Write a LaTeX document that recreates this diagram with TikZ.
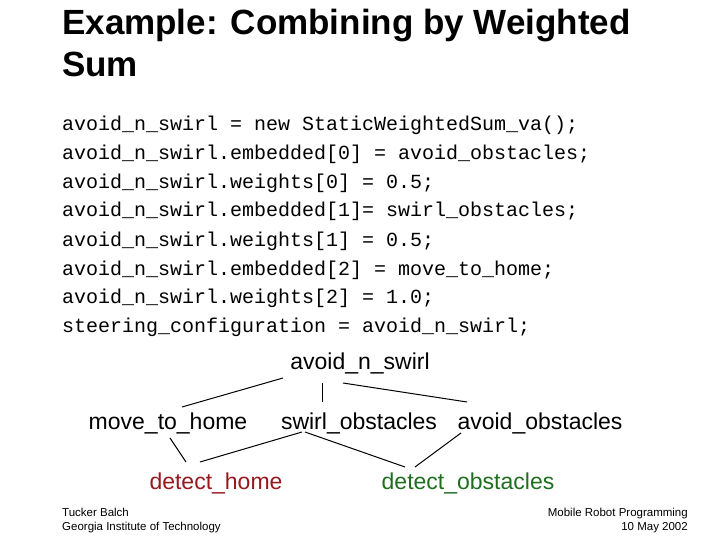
\documentclass[tikz,border=0pt]{standalone}
\usepackage{fontspec}
\setmainfont{Liberation Sans}
\setmonofont{Liberation Mono}
\begin{document}
\begin{tikzpicture}[x=1pt,y=-1pt,
 code/.style={anchor=base west,inner sep=0,font=\ttfamily\fontsize{20}{20}\selectfont},
 tree/.style={anchor=base,inner sep=0,font=\fontsize{23}{23}\selectfont},
 foot/.style={inner sep=0,font=\fontsize{11.5}{14}\selectfont},
 ln/.style={line width=1pt}]
\useasboundingbox (0,0) rectangle (720,540);
\node[anchor=north west,inner sep=0,font=\bfseries\fontsize{35}{42}\selectfont,align=left] (title) at (62,9) {Example: Combining by Weighted\\Sum};
\node[code] (c1) at (62,131) {avoid\_n\_swirl = new StaticWeightedSum\_va();};
\node[code] (c2) at (62,160) {avoid\_n\_swirl.embedded[0] = avoid\_obstacles;};
\node[code] (c3) at (62,189) {avoid\_n\_swirl.weights[0] = 0.5;};
\node[code] (c4) at (62,217) {avoid\_n\_swirl.embedded[1]= swirl\_obstacles;};
\node[code] (c5) at (62,246) {avoid\_n\_swirl.weights[1] = 0.5;};
\node[code] (c6) at (62,275) {avoid\_n\_swirl.embedded[2] = move\_to\_home;};
\node[code] (c7) at (62,303) {avoid\_n\_swirl.weights[2] = 1.0;};
\node[code] (c8) at (62,332) {steering\_configuration = avoid\_n\_swirl;};
\node[tree] (ans) at (360,369) {avoid\_n\_swirl};
\node[tree] (mth) at (168,429) {move\_to\_home};
\node[tree] (so) at (359,429) {swirl\_obstacles};
\node[tree] (ao) at (540,429) {avoid\_obstacles};
\node[tree,text={rgb,255:red,150;green,25;blue,30}] (dh) at (216,489) {detect\_home};
\node[tree,text={rgb,255:red,30;green,110;blue,30}] (do) at (468,489) {detect\_obstacles};
\coordinate (a1) at (283,378); \coordinate (m1) at (182,407);
\coordinate (a2) at (322,383); \coordinate (s1) at (322,402);
\coordinate (a3) at (343,383); \coordinate (o1) at (467,402);
\coordinate (m2) at (170,438); \coordinate (h1) at (186,462);
\coordinate (h2) at (200,462); \coordinate (s2) at (302,432);
\coordinate (s3) at (305,432); \coordinate (d1) at (405,467);
\coordinate (d2) at (415,467); \coordinate (o2) at (461,433);
\draw[ln] (a1)--(m1); \draw[ln] (a2)--(s1); \draw[ln] (a3)--(o1);
\draw[ln] (m2)--(h1); \draw[ln] (h2)--(s2); \draw[ln] (s3)--(d1); \draw[ln] (d2)--(o2);
\node[foot,anchor=north west,align=left] (fl) at (62,508) {Tucker Balch\\Georgia Institute of Technology};
\node[foot,anchor=north east,align=right] (fr) at (688,508) {Mobile Robot Programming\\10 May 2002};
\end{tikzpicture}
\end{document}
